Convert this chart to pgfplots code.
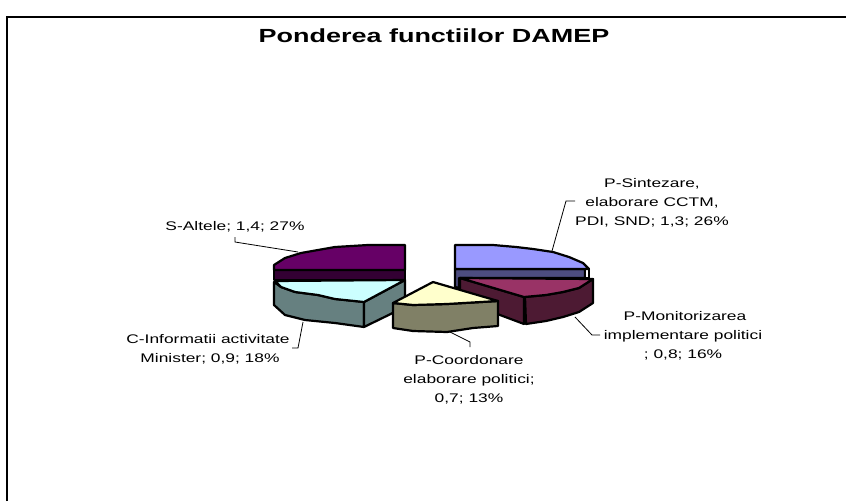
\documentclass[border=0pt]{standalone}
\usepackage{fontspec}
\setmainfont{Liberation Sans}
\usepackage{pgfplots}
\pgfplotsset{compat=1.18}
\definecolor{blueT}{HTML}{9999FF}\definecolor{blueS}{HTML}{4D4D80}
\definecolor{redT}{HTML}{993366}\definecolor{redS}{HTML}{4D1A33}
\definecolor{yelT}{HTML}{FFFFCC}\definecolor{yelS}{HTML}{808066}
\definecolor{cyaT}{HTML}{CCFFFF}\definecolor{cyaS}{HTML}{668080}
\definecolor{purT}{HTML}{660066}\definecolor{purS}{HTML}{330033}
\pgfplotsset{slice/.style={draw=black,line width=2.2pt,line join=round,fill=#1},
 leader/.style={draw=black,line width=0.8pt,no markers}}
\newcommand{\lab}[3]{\node[inner sep=0pt,xscale=1.39,transform shape,anchor=center,text=black] at (axis cs:#1,#2) {\fontsize{12.5}{15}\selectfont\strut #3};}
\begin{document}
\begin{tikzpicture}
\path[use as bounding box] (0,0) rectangle (846pt,501pt);
\begin{axis}[at={(0,0)},anchor=south west,scale only axis,width=846pt,height=501pt,
 xmin=0,xmax=846,ymin=0,ymax=501,y dir=reverse,hide axis]
% frame
\addplot[draw=black,line width=2.6pt,no markers] coordinates {(7,501)(7,17)(846,17)};
% leaders
\addplot[leader] coordinates {(235,237)(235,242)(298,252)};
\addplot[leader] coordinates {(303,322)(298,348)(292,348)};
\addplot[leader] coordinates {(575,201)(566,201)(552,251)};
\addplot[leader] coordinates {(575,317)(592,335)(600,335)};
\addplot[leader] coordinates {(450,332)(470,342)(470,347)};
% P-Sintezare
\addplot[slice=blueS] coordinates {(455,269)(585,269)(585,278)(459,278)(459,288)(455,287)} -- cycle;
\addplot[slice=white] coordinates {(585,269)(589,269)(589,278)(585,278)} -- cycle;
\addplot[slice=blueT] coordinates {(455,245)(493,245)(516,247)(533,249)(553,252)(569,257)(583,263)(589,269)(455,269)} -- cycle;
% S-Altele
\addplot[slice=purS] coordinates {(274,270)(405,270)(405,280)(274,280)} -- cycle;
\addplot[slice=purT] coordinates {(405,245)(368,245)(335,247)(301,253)(285,258)(274,265)(274,270)(405,270)} -- cycle;
% C-Informatii
\addplot[slice=cyaS] coordinates {(274,282)(281,287)(295,292)(318,295)(335,299)(364,302)(364,327)(335,323)(305,320)(285,315)(274,305)} -- cycle;
\addplot[slice=cyaS] coordinates {(364,302)(405,280)(405,307)(364,327)} -- cycle;
\addplot[slice=cyaT] coordinates {(275,281)(405,280)(364,302)(335,299)(318,295)(295,292)(281,287)} -- cycle;
% P-Monitorizarea
\addplot[slice=redS] coordinates {(460,278)(524,297)(524,324)(460,300)} -- cycle;
\addplot[slice=redS] coordinates {(525,297)(546,295)(563,292)(579,288)(593,279)(593,303)(579,312)(563,317)(546,321)(526,324)} -- cycle;
\addplot[slice=redT] coordinates {(460,278)(593,279)(579,288)(563,292)(546,295)(524,297)} -- cycle;
% P-Coordonare
\addplot[slice=yelS] coordinates {(393,303)(413,305)(447,304)(498,301)(498,326)(473,328)(447,332)(413,331)(393,328)} -- cycle;
\addplot[slice=yelT] coordinates {(433,282)(393,303)(413,305)(447,304)(498,301)} -- cycle;
% text
\node[inner sep=0pt,xscale=1.42,transform shape] at (axis cs:434,36) {\fontsize{19}{22}\selectfont\bfseries Ponderea functiilor DAMEP};
\lab{235}{227}{S-Altele; 1,4; 27\%}
\lab{208}{340}{C-Informatii activitate}
\lab{210}{359}{Minister; 0,9; 18\%}
\lab{652}{184}{P-Sintezare,}
\lab{652}{203}{elaborare CCTM,}
\lab{652}{222}{PDI, SND; 1,3; 26\%}
\lab{685}{317}{P-Monitorizarea}
\lab{683}{336}{implementare politici}
\lab{683}{355}{; 0,8; 16\%}
\lab{469}{361}{P-Coordonare}
\lab{469}{380}{elaborare politici;}
\lab{469}{399}{0,7; 13\%}
\end{axis}
\end{tikzpicture}
\end{document}
